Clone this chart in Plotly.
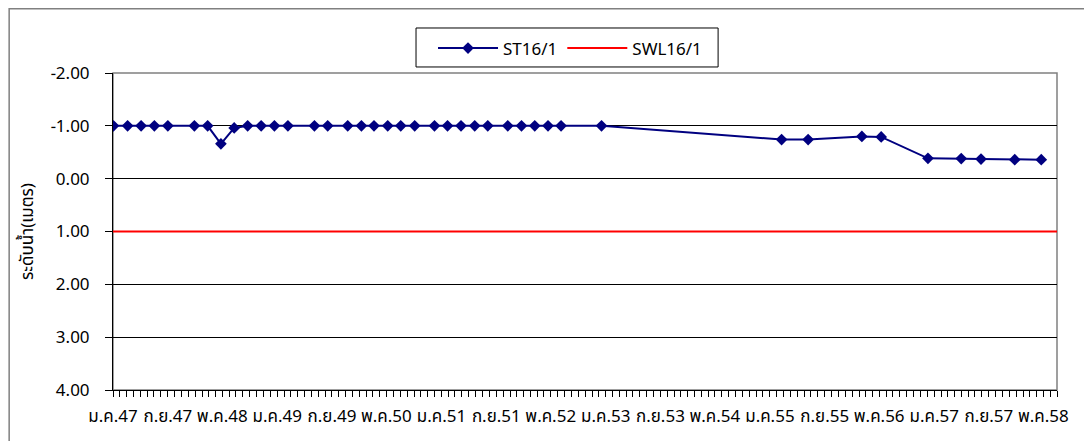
import plotly.graph_objects as go

# ---- data ----
dates = [
    "2004-01-03", "2004-03-06", "2004-05-05", "2004-07-03", "2004-09-01",
    "2004-12-28", "2005-02-25", "2005-04-25", "2005-06-23", "2005-08-22",
    "2005-10-21", "2005-12-19", "2006-02-17", "2006-06-15", "2006-08-13",
    "2006-11-10", "2007-01-10", "2007-03-07", "2007-05-07", "2007-07-04",
    "2007-09-04", "2007-12-01", "2008-01-28", "2008-03-28", "2008-05-28",
    "2008-07-25", "2008-10-22", "2008-12-22", "2009-02-19", "2009-04-19",
    "2009-06-16", "2009-12-13", "2012-02-22", "2012-06-19", "2013-02-13",
    "2013-05-10", "2013-12-04", "2014-05-01", "2014-07-28", "2014-12-25",
    "2015-04-22",
]
st_values = [
    -1.00, -1.00, -1.00, -1.00, -1.00,
    -1.00, -1.00, -0.66, -0.96, -1.00,
    -1.00, -1.00, -1.00, -1.00, -1.00,
    -1.00, -1.00, -1.00, -1.00, -1.00,
    -1.00, -1.00, -1.00, -1.00, -1.00,
    -1.00, -1.00, -1.00, -1.00, -1.00,
    -1.00, -1.00, -0.74, -0.74, -0.80,
    -0.79, -0.385, -0.38, -0.37, -0.36,
    -0.36,
]
swl_dates = ["2004-01-01", "2015-07-01"]
swl_values = [1.00, 1.00]

tick_dates = [
    "2004-01-01", "2004-09-01", "2005-05-01", "2006-01-01", "2006-09-01",
    "2007-05-01", "2008-01-01", "2008-09-01", "2009-05-01", "2010-01-01",
    "2010-09-01", "2011-05-01", "2012-01-01", "2012-09-01", "2013-05-01",
    "2014-01-01", "2014-09-01", "2015-05-01",
]
tick_labels = [
    "ม.ค.47", "ก.ย.47", "พ.ค.48", "ม.ค.49", "ก.ย.49", "พ.ค.50", "ม.ค.51",
    "ก.ย.51", "พ.ค.52", "ม.ค.53", "ก.ย.53", "พ.ค.54", "ม.ค.55", "ก.ย.55",
    "พ.ค.56", "ม.ค.57", "ก.ย.57", "พ.ค.58",
]
y_ticks = [-2, -1, 0, 1, 2, 3, 4]

FONT = "Noto Sans Thai, Leelawadee UI, Tahoma, Noto Sans, sans-serif"
NAVY = "#000080"

fig = go.Figure()
fig.add_trace(go.Scatter(
    x=swl_dates, y=swl_values, mode="lines", name="SWL16/1",
    line=dict(color="#ff0000", width=2),
))
fig.add_trace(go.Scatter(
    x=dates, y=st_values, mode="lines+markers", name="ST16/1",
    line=dict(color=NAVY, width=2),
    marker=dict(symbol="diamond", size=9, color=NAVY),
))

fig.update_layout(
    width=1084, height=433,
    margin=dict(l=105, r=35, t=65, b=51),
    paper_bgcolor="white", plot_bgcolor="white",
    font=dict(family=FONT, size=17, color="#000000"),
    showlegend=True,
    legend=dict(
        orientation="h", x=0.339, y=1.134, xanchor="left", yanchor="top",
        borderwidth=0, bgcolor="rgba(0,0,0,0)",
        font=dict(size=17), traceorder="reversed",
        itemwidth=60,
    ),
    xaxis=dict(
        type="date", automargin=False,
        range=["2004-01-01", "2015-07-01"],
        tickmode="array", tickvals=tick_dates, ticktext=tick_labels,
        ticks="outside", ticklen=6, tickcolor="#000000", tickwidth=1,
        showline=True, linecolor="#000000", linewidth=1,
        showgrid=False, zeroline=False,
        ticklabelstandoff=5,
        tickfont=dict(size=17),
        minor=dict(tickmode="linear", tick0="2004-01-01", dtick="M1",
                   ticks="outside", ticklen=6, tickcolor="#000000",
                   showgrid=False),
    ),
    yaxis=dict(
        automargin=False,
        range=[4, -2],
        tickmode="array", tickvals=y_ticks, tickformat=".2f",
        ticks="outside", ticklen=7, tickcolor="#000000",
        showline=True, linecolor="#000000", linewidth=1,
        showgrid=True, gridcolor="#000000", gridwidth=1,
        zeroline=False,
        ticklabelstandoff=12,
        tickfont=dict(size=17),
        title=dict(text="ระดับน้ำ(เมตร)", font=dict(size=17), standoff=12),
    ),
)

# plot-area border (gray), outer chart border, legend box
fig.add_shape(type="rect", xref="paper", yref="paper", x0=0, y0=0, x1=1, y1=1,
              line=dict(color="#808080", width=1.5), layer="below")
fig.add_shape(type="rect", xref="paper", yref="paper",
              x0=-0.110, y0=-0.6, x1=1.2, y1=1.203,
              line=dict(color="#808080", width=1.5), layer="below")
fig.add_shape(type="rect", xref="paper", yref="paper",
              x0=0.321, y0=1.019, x1=0.641, y1=1.142,
              line=dict(color="#000000", width=1), fillcolor="white",
              layer="above")

fig.write_html("out.html")
